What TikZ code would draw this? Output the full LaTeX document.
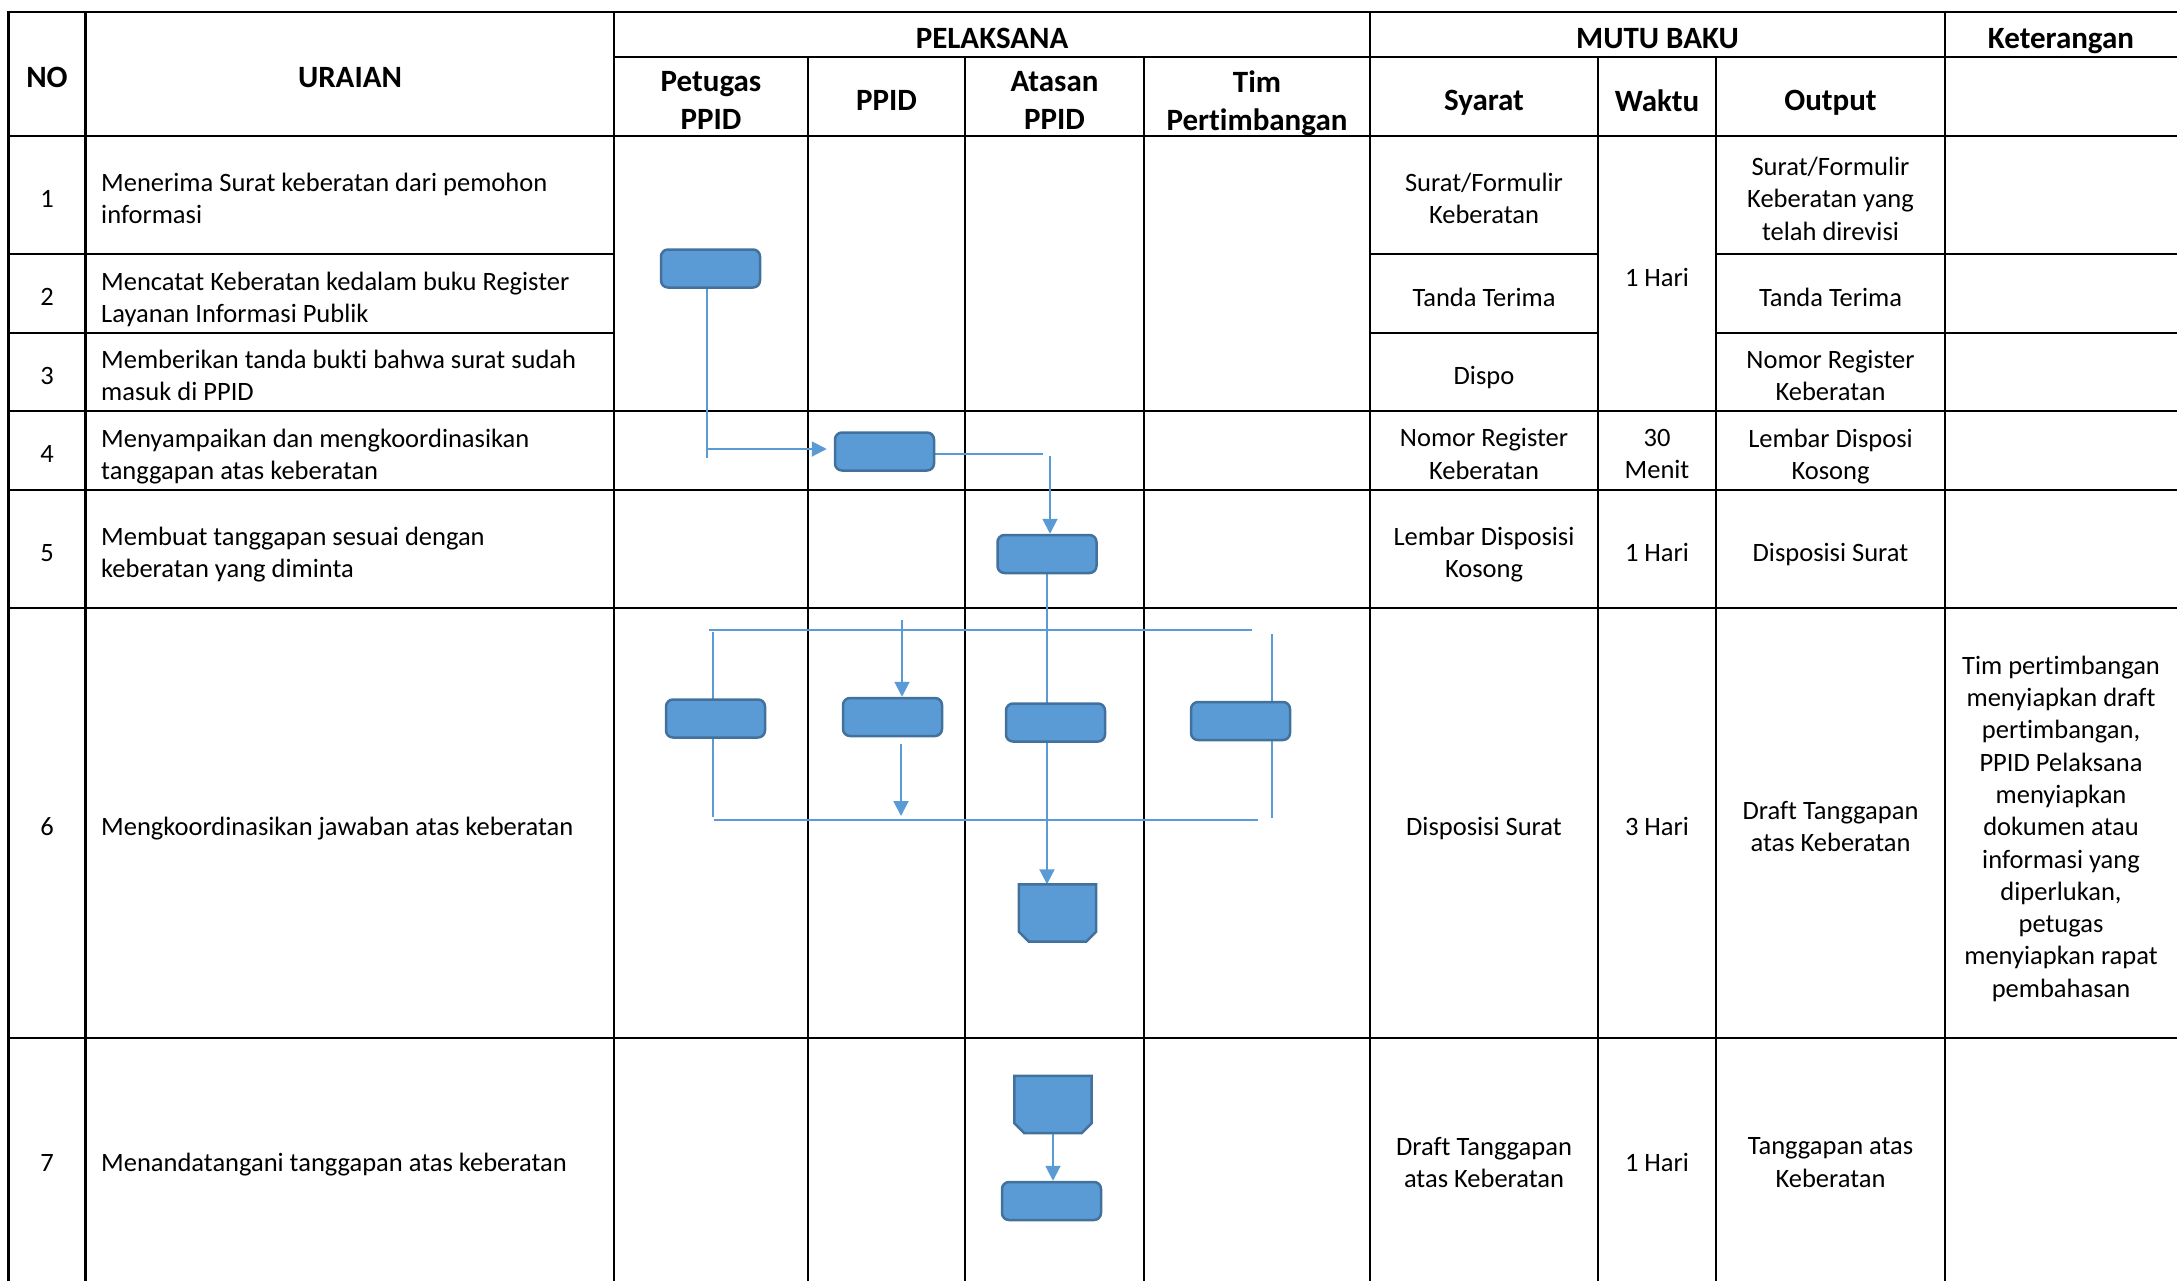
\documentclass[tikz,border=0pt]{standalone}
\usepackage{fontspec}
\setmainfont{Carlito}[Ligatures=NoCommon]
\usetikzlibrary{arrows.meta}
\pgfdeclarelayer{gridlayer}
\pgfdeclarelayer{connlayer}
\pgfsetlayers{gridlayer,connlayer,main}
\definecolor{boxfill}{HTML}{5B9BD5}
\definecolor{boxline}{HTML}{41719C}
\definecolor{conncol}{HTML}{5B9BD5}
\newcommand\bodyfont{\fontsize{26.5}{32.3}\selectfont}
\newcommand\headfont{\fontsize{31}{38}\selectfont\bfseries}
\begin{document}
\begin{tikzpicture}[x=1pt,y=-1pt,
  gridline/.style={line width=2.7pt,black,line cap=rect},
  proc/.style={draw=boxline,fill=boxfill,line width=2.5pt,rounded corners=7pt,
    minimum width=99pt,minimum height=38pt,inner sep=0pt},
  offp/.style={minimum width=77pt,minimum height=57pt,inner sep=0pt},
  offpath/.style={draw=boxline,fill=boxfill,line width=2.5pt},
  conn/.style={draw=conncol,line width=2pt},
  arr/.style={conn,-{Triangle[length=15pt,width=15pt]}},
  txt/.style={inner sep=0pt,text depth=0pt,yshift=-3.5pt},
  hd/.style={txt,font=\headfont,align=center},
  bd/.style={txt,font=\bodyfont,align=center},
  ur/.style={txt,font=\bodyfont,align=left,anchor=west}]
\useasboundingbox (0,0) rectangle (2177,1280);

% ---------- grid ----------
\begin{pgfonlayer}{gridlayer}
\draw[gridline] (8.5,12) -- (2177,12);
\draw[gridline] (614,57) -- (2177,57);
\draw[gridline] (8.5,136) -- (2177,136);
\foreach \yy in {254,333}{
  \draw[gridline] (8.5,\yy) -- (614,\yy);
  \draw[gridline] (1370,\yy) -- (1598,\yy);
  \draw[gridline] (1716,\yy) -- (2177,\yy);
}
\foreach \yy in {411,490,608,1038}{
  \draw[gridline] (8.5,\yy) -- (2177,\yy);
}
\foreach \xx in {8.5,85.5,614,1370,1945}{
  \draw[gridline] (\xx,12) -- (\xx,1282);
}
\foreach \xx in {808,965,1144,1598,1716}{
  \draw[gridline] (\xx,57) -- (\xx,1282);
}
\end{pgfonlayer}

% ---------- header ----------
\node[hd] (hNo) at (47,74) {NO};
\node[hd] (hUr) at (350,74) {URAIAN};
\node[hd] (hPel) at (992,35) {PELAKSANA};
\node[hd] (hPet) at (711,97) {Petugas\\PPID};
\node[hd] (hPpid) at (886.5,97) {PPID};
\node[hd] (hAt) at (1054.5,97) {Atasan\\PPID};
\node[hd] (hTim) at (1257,97) {Tim\\Pertimbangan};
\node[hd] (hMutu) at (1657.5,35) {MUTU BAKU};
\node[hd] (hSy) at (1484,97) {Syarat};
\node[hd] (hWk) at (1657,97) {Waktu};
\node[hd] (hOut) at (1830.5,97) {Output};
\node[hd] (hKet) at (2061,35) {Keterangan};

% ---------- numbers ----------
\node[bd] (n1) at (47,195) {1};
\node[bd] (n2) at (47,293.5) {2};
\node[bd] (n3) at (47,372) {3};
\node[bd] (n4) at (47,450.5) {4};
\node[bd] (n5) at (47,549) {5};
\node[bd] (n6) at (47,823) {6};
\node[bd] (n7) at (47,1159) {7};

% ---------- uraian ----------
\node[ur] (u1) at (101,195) {Menerima Surat keberatan dari pemohon\\informasi};
\node[ur] (u2) at (101,293.5) {Mencatat Keberatan kedalam buku Register\\Layanan Informasi Publik};
\node[ur] (u3) at (101,372) {Memberikan tanda bukti bahwa surat sudah\\masuk di PPID};
\node[ur] (u4) at (101,450.5) {Menyampaikan dan mengkoordinasikan\\tanggapan atas keberatan};
\node[ur] (u5) at (101,549) {Membuat tanggapan sesuai dengan\\keberatan yang diminta};
\node[ur] (u6) at (101,823) {Mengkoordinasikan jawaban atas keberatan};
\node[ur] (u7) at (101,1159) {Menandatangani tanggapan atas keberatan};

% ---------- syarat ----------
\node[bd] (s1) at (1484,195) {Surat/Formulir\\Keberatan};
\node[bd] (s2) at (1484,293.5) {Tanda Terima};
\node[bd] (s3) at (1484,372) {Dispo};
\node[bd] (s4) at (1484,450.5) {Nomor Register\\Keberatan};
\node[bd] (s5) at (1484,549) {Lembar Disposisi\\Kosong};
\node[bd] (s6) at (1484,823) {Disposisi Surat};
\node[bd] (s7) at (1484,1159) {Draft Tanggapan\\atas Keberatan};

% ---------- waktu ----------
\node[bd] (w1) at (1657,273.5) {1 Hari};
\node[bd] (w4) at (1657,450.5) {30\\Menit};
\node[bd] (w5) at (1657,549) {1 Hari};
\node[bd] (w6) at (1657,823) {3 Hari};
\node[bd] (w7) at (1657,1159) {1 Hari};

% ---------- output ----------
\node[bd] (o1) at (1830.5,195) {Surat/Formulir\\Keberatan yang\\telah direvisi};
\node[bd] (o2) at (1830.5,293.5) {Tanda Terima};
\node[bd] (o3) at (1830.5,372) {Nomor Register\\Keberatan};
\node[bd] (o4) at (1830.5,450.5) {Lembar Disposi\\Kosong};
\node[bd] (o5) at (1830.5,549) {Disposisi Surat};
\node[bd] (o6) at (1830.5,823) {Draft Tanggapan\\atas Keberatan};
\node[bd] (o7) at (1830.5,1159) {Tanggapan atas\\Keberatan};

% ---------- keterangan ----------
\node[bd] (k6) at (2061,823) {Tim pertimbangan\\menyiapkan draft\\pertimbangan,\\PPID Pelaksana\\menyiapkan\\dokumen atau\\informasi yang\\diperlukan,\\petugas\\menyiapkan rapat\\pembahasan};

% ---------- flow boxes ----------
\node[proc] (A) at (710.5,268.5) {};
\node[proc] (B) at (884.5,451.5) {};
\node[proc] (C) at (1047,554) {};
\node[proc] (D) at (715.5,718.5) {};
\node[proc] (E) at (892.5,717) {};
\node[proc] (F) at (1055.5,722.5) {};
\node[proc] (H) at (1240.5,721) {};
\node[proc] (J) at (1051.5,1201) {};
\node[offp] (G) at (1057.5,913) {};
\node[offp] (I) at (1053,1104.5) {};
\foreach \nn in {G,I}{
  \draw[offpath] (\nn.north west) -- (\nn.north east) -- ([yshift=10pt]\nn.south east)
    -- ([xshift=-10pt]\nn.south east) -- ([xshift=10pt]\nn.south west)
    -- ([yshift=10pt]\nn.south west) -- cycle;
}

% ---------- connectors ----------
\coordinate (aEnd) at (706.5,458);
\coordinate (aTurn) at (706.5,449);
\coordinate (bEnd) at (1043,454);
\coordinate (cTop) at (1050,456);
\coordinate (tL) at (709,630);
\coordinate (tR) at (1252,630);
\coordinate (bL) at (714,820);
\coordinate (bR) at (1258,820);
\coordinate (lv1) at (713,632);
\coordinate (lv2) at (713,817);
\coordinate (rv1) at (1271.5,634);
\coordinate (rv2) at (1271.5,818);
\coordinate (eIn) at (902,620);
\coordinate (eOutS) at (901,744);
\coordinate (eOutE) at (901,816);
\begin{pgfonlayer}{connlayer}
\draw[conn] (A.south -| aEnd) -- (aEnd);
\draw[arr,shorten >=7pt] (aTurn) -- (aTurn -| B.west);
\draw[conn] (B.east |- bEnd) -- (bEnd);
\draw[arr] (cTop) -- (cTop |- C.north);
\draw[arr] (C.south) -- (C.south |- G.north);
\draw[conn] (tL) -- (tR);
\draw[conn] (bL) -- (bR);
\draw[conn] (lv1) -- (lv2);
\draw[conn] (rv1) -- (rv2);
\draw[arr] (eIn) -- (eIn |- E.north);
\draw[arr] (eOutS) -- (eOutE);
\draw[arr] (I.south) -- (I.south |- J.north);
\end{pgfonlayer}
\end{tikzpicture}
\end{document}
